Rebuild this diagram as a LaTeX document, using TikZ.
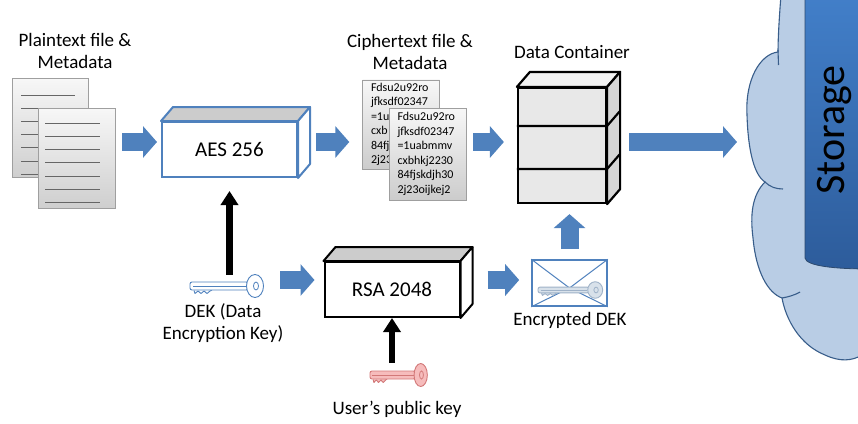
\documentclass[tikz,border=0pt]{standalone}
\usepackage{fontspec}
\setmainfont{Carlito}
\usetikzlibrary{arrows.meta}

\definecolor{arrowblue}{HTML}{4F81BD}
\definecolor{cloudfill}{HTML}{B9CDE5}
\definecolor{cloudline}{HTML}{385D8A}
\definecolor{stgtop}{HTML}{427FC9}
\definecolor{stgbot}{HTML}{2D5C9B}
\definecolor{keypink}{HTML}{F6BCBC}
\definecolor{keyred}{HTML}{D27878}
\definecolor{envkeyfill}{HTML}{D8E1EA}
\definecolor{envkeyline}{HTML}{9FB2C8}

\tikzstyle{heading} = [font=\fontsize{19}{22.5}\selectfont, align=center]
\tikzstyle{paper} = [rectangle, draw=gray!75, top color=gray!6, bottom color=gray!38, minimum width=77pt, minimum height=100pt]
\tikzstyle{docline} = [draw=gray!80!black, line width=0.9pt]
\tikzstyle{cipherpaper} = [rectangle, draw=gray!75, top color=gray!6, bottom color=gray!40, text width=60pt, inner xsep=8.5pt, align=left, font=\fontsize{12}{14.5}\selectfont]
\tikzstyle{facebox} = [rectangle, fill=white, line width=2pt, minimum width=135pt, minimum height=55pt, font=\fontsize{21}{24}\selectfont]
\tikzstyle{fatarrow} = [line width=18pt, draw=arrowblue, -{Triangle[width=31pt,length=14pt]}]
\tikzstyle{blackarrow} = [line width=6.5pt, -{Triangle[width=17pt,length=14pt]}]

% a key lying on its side: #1 placement, #2 outline, #3 fill
\newcommand{\keyshape}[3]{%
  \begin{scope}[#1]
    \draw[#2, fill=#3, line width=0.9pt, line join=round]
      (4,4.5) -- (5,7.5) -- (8,5) -- (11,7.5) -- (14,5) -- (17,7.5) -- (20,5) -- (22,4);
    \draw[#2, fill=#3, line width=0.9pt, rounded corners=2pt] (0,-4) rectangle (58,4);
    \draw[#2, line width=0.6pt] (3,0) -- (56,0);
    \draw[#2, fill=#3, line width=0.9pt] (65,0) ellipse [x radius=8.5, y radius=11.5];
    \draw[#2, line width=0.8pt] (66,0) ellipse [x radius=2.5, y radius=4];
  \end{scope}}

\begin{document}
\begin{tikzpicture}[x=1pt, y=-1pt]
  \useasboundingbox (0,0) rectangle (858,423);
  \clip (0,0) rectangle (858,423);

  % Cloud with the storage column
  \draw[cloudline, fill=cloudfill, line width=1.1pt]
    (781,-5) .. controls (779,20) and (778,40) .. (778,52)
    .. controls (760,54) and (745,80) .. (747,115)
    .. controls (748,150) and (754,175) .. (765,182)
    .. controls (752,195) and (750,215) .. (753,238)
    .. controls (756,272) and (768,293) .. (782,298)
    .. controls (786,320) and (800,345) .. (825,355)
    .. controls (840,362) and (852,361) .. (862,355)
    -- (870,355) -- (870,-5) -- cycle;
  \draw[cloudline, line width=1.1pt] (778,50) -- (778.5,65);
  \draw[cloudline, line width=1.1pt] (765,182) .. controls (770,187) and (776,189) .. (783,189);
  \draw[cloudline, line width=1.1pt] (782,298) .. controls (788,297) and (795,295) .. (800,292);
  \draw[cloudline!80!black, top color=stgtop, bottom color=stgbot, line width=0.8pt]
    (805,-5) -- (805,258) .. controls (806,266) and (835,269) .. (870,269) -- (870,-5) -- cycle;
  \node (storage) [rotate=90, font=\fontsize{42}{42}\selectfont] at (834,130) {Storage};
  \coordinate (cloudedge) at (745,142);

  % Rows for the blue arrows
  \coordinate (toprow) at (0,142);
  \coordinate (lowrow) at (0,280);

  % Plaintext documents
  \node (plainhead) [heading] at (75,51) {Plaintext file \&\\Metadata};
  \node (plainback) [paper, minimum width=76pt, minimum height=99pt] at (50,127.5) {};
  \foreach \y in {95,108.2,121.4,134.6,147.8,161,174}
    \draw[docline] (21,\y) -- (75,\y);
  \node (plainfront) [paper] at (76.5,158) {};
  \foreach \y in {123,136.3,149.6,162.9,176.2,189.5,202.8}
    \draw[docline] (45,\y) -- (100,\y);

  % AES box
  \node (aes) [facebox, draw=arrowblue] at (229.5,149.5) {AES 256};
  \draw[arrowblue, line width=2pt, fill=gray!40, line join=round]
    (aes.north west) -- ++(12,-14) -- ([shift={(12,-14)}]aes.north east) -- (aes.north east) -- cycle;
  \draw[arrowblue, line width=2pt, fill=white, line join=round]
    (aes.north east) -- ++(12,-14) -- ([shift={(12,-14)}]aes.south east) -- (aes.south east) -- cycle;

  % Ciphertext documents (the front sheet hides most of the back one)
  \node (cipherhead) [heading] at (410,52) {Ciphertext file \&\\Metadata};
  \node (cipherback) [cipherpaper, minimum height=89pt] at (401,124.5)
    {Fdsu2u92ro\\jfksdf02347\\=1u\\cxb\\84fj\\2j23};
  \node (cipherfront) [cipherpaper, minimum height=92pt] at (427.5,154)
    {Fdsu2u92ro\\jfksdf02347\\=1uabmmv\\cxbhkj2230\\84fjskdjh30\\2j23oijkej2};

  % Data container
  \node (containerhead) [heading] at (572,52) {Data Container};
  \node (container) [rectangle, draw, line width=2.2pt, fill=gray!18, minimum width=88pt, minimum height=115pt] at (562,145.5) {};
  \draw[line width=2.2pt, fill=gray!10, line join=round]
    (container.north west) -- ++(13,-15) -- ([shift={(13,-15)}]container.north east) -- (container.north east) -- cycle;
  \draw[line width=2.2pt, fill=gray!32, line join=round]
    (container.north east) -- ++(13,-15) -- ([shift={(13,-15)}]container.south east) -- (container.south east) -- cycle;
  \draw[line width=2.2pt] ([yshift=-39pt]container.north west) -- ([yshift=-39pt]container.north east) -- ++(13,-15);
  \draw[line width=2.2pt] ([yshift=-82pt]container.north west) -- ([yshift=-82pt]container.north east) -- ++(13,-15);

  % DEK key
  \node (dek) [minimum width=74pt, minimum height=22pt] at (226,286) {};
  \keyshape{shift={(190,286)}}{arrowblue}{white}
  \node (deklabel) [heading] at (223,323) {DEK (Data\\Encryption Key)};

  % RSA box
  \node (rsa) [facebox, draw] at (392,289.5) {RSA 2048};
  \draw[line width=2pt, fill=gray!40, line join=round]
    (rsa.north west) -- ++(12,-14) -- ([shift={(12,-14)}]rsa.north east) -- (rsa.north east) -- cycle;
  \draw[line width=2pt, fill=white, line join=round]
    (rsa.north east) -- ++(12,-14) -- ([shift={(12,-14)}]rsa.south east) -- (rsa.south east) -- cycle;

  % User's public key
  \node (pubkey) [minimum width=60pt, minimum height=24pt] at (399,375) {};
  \keyshape{shift={(370,375)}, xscale=0.78}{keyred}{keypink}
  \node (pubkeylabel) [heading] at (397,409) {User’s public key};

  % Envelope holding the encrypted DEK
  \node (envelope) [rectangle, draw=arrowblue, line width=1.6pt, fill=white, minimum width=75pt, minimum height=46pt] at (569.5,283) {};
  \draw[arrowblue, line width=1pt] (envelope.north west) -- ([yshift=-5pt]envelope.center) -- (envelope.north east);
  \draw[arrowblue, line width=1pt] (envelope.south west) -- ([yshift=-5pt]envelope.center) -- (envelope.south east);
  \keyshape{shift={(538,290)}, xscale=0.88, yscale=0.72}{envkeyline}{envkeyfill}
  \node (envelopelabel) [heading] at (570,320) {Encrypted DEK};

  % Blue arrows
  \draw[fatarrow, shorten <=7pt, shorten >=4pt] (plainfront.east |- toprow) -- (aes.west |- toprow);
  \draw[fatarrow, shorten <=18pt, shorten >=13pt] (aes.east |- toprow) -- (cipherback.west |- toprow);
  \draw[fatarrow, shorten <=7pt, shorten >=13pt] (cipherfront.east |- toprow) -- (container.west |- toprow);
  \draw[fatarrow, shorten <=22pt, shorten >=8pt] (container.east |- toprow) -- (cloudedge);
  \draw[fatarrow, shorten <=17pt, shorten >=9pt] (dek.east |- lowrow) -- (rsa.west |- lowrow);
  \draw[fatarrow, shorten <=27pt, shorten >=12pt] (rsa.east |- lowrow) -- (envelope.west |- lowrow);
  \draw[fatarrow, shorten <=10pt, shorten >=10pt] (envelope.north) -- (envelope.north |- container.south);

  % Black arrows
  \draw[blackarrow, shorten >=13pt] (aes.south |- dek.north) -- (aes.south);
  \draw[blackarrow] (rsa.south |- pubkey.north) -- (rsa.south);
\end{tikzpicture}
\end{document}
